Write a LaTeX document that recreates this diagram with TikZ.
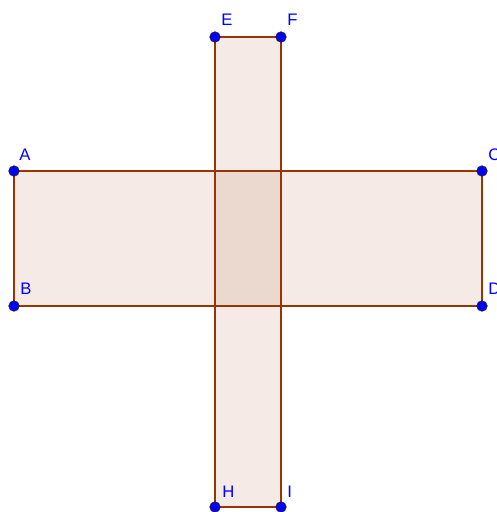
\documentclass[tikz,border=0pt]{standalone}
\usepackage{fontspec}
\setsansfont{Liberation Sans}
\definecolor{ggbline}{RGB}{153,51,0}
\definecolor{ggbpoint}{RGB}{0,0,255}
\tikzset{
    poly/.style={line width=1.1pt, draw=ggbline, fill=ggbline, fill opacity=0.1},
    pt/.style={circle, fill=ggbpoint, draw=black!85, line width=0.4pt, inner sep=0pt, minimum size=0.21cm},
    lbl/.style={text=ggbpoint, font=\sffamily\fontsize{9.5}{10}\selectfont, inner sep=0pt}
}
\begin{document}
\begin{tikzpicture}[x=0.02cm, y=-0.02cm]
    \useasboundingbox (0,0) rectangle (497,512);
    \clip (0,0) rectangle (497,512);

    % Corner points
    \coordinate (A) at (14,171);
    \coordinate (B) at (14,306);
    \coordinate (C) at (482,171);
    \coordinate (D) at (482,306);
    \coordinate (E) at (215,37);
    \coordinate (F) at (281,37);
    \coordinate (H) at (215,507);
    \coordinate (I) at (281,507);

    % Horizontal rectangle
    \draw[poly] (A) -- (C) -- (D) -- (B) -- cycle;

    % Vertical rectangle
    \draw[poly] (E) -- (F) -- (I) -- (H) -- cycle;

    % Points
    \foreach \p in {A,B,C,D,E,F,H,I}
        \node[pt] (p\p) at (\p) {};

    % Labels
    \node[lbl, anchor=south west] (lA) at (19,161) {A};
    \node[lbl, anchor=south west] (lB) at (20,295) {B};
    \node[lbl, anchor=south west] (lC) at (488,161) {C};
    \node[lbl, anchor=south west] (lD) at (488,295) {D};
    \node[lbl, anchor=south west] (lE) at (221,26) {E};
    \node[lbl, anchor=south west] (lF) at (287,26) {F};
    \node[lbl, anchor=south west] (lH) at (222,498) {H};
    \node[lbl, anchor=south west] (lI) at (287,498) {I};
\end{tikzpicture}
\end{document}
